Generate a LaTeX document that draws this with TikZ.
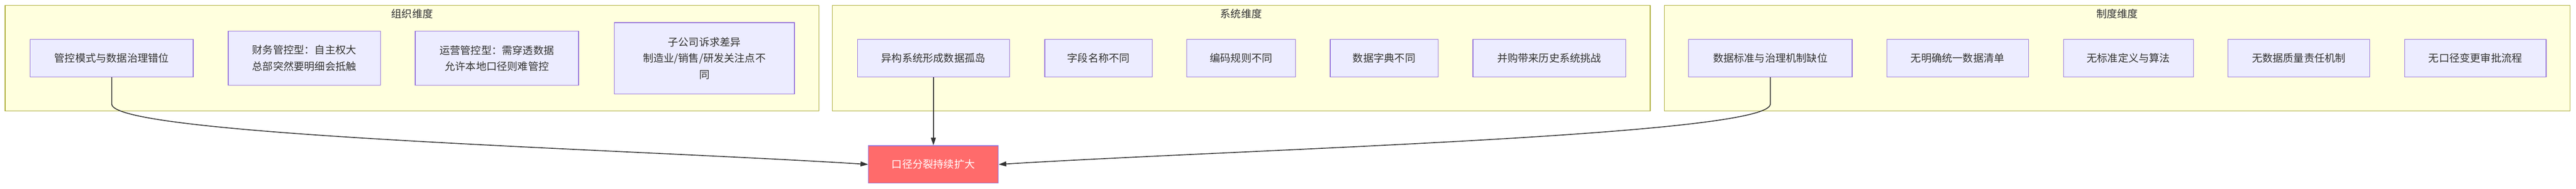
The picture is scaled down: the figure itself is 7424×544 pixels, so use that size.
\documentclass[tikz,border=0pt]{standalone}
\usepackage{fontspec}
\setmainfont{Noto Sans CJK SC}
\usetikzlibrary{arrows.meta}
\definecolor{grpfill}{HTML}{FFFFDE}
\definecolor{grpline}{HTML}{AAAA33}
\definecolor{boxfill}{HTML}{ECECFF}
\definecolor{boxline}{HTML}{9370DB}
\definecolor{hot}{HTML}{FF6B6B}
\definecolor{ink}{HTML}{333333}
\begin{document}
\begin{tikzpicture}[x=1pt,y=-1pt,
  grp/.style={draw=grpline,fill=grpfill,line width=2pt},
  grptitle/.style={text=ink,font=\fontsize{30}{36}\selectfont},
  box/.style={draw=boxline,fill=boxfill,line width=2pt,inner sep=0pt,align=center,
    text=ink,font=\fontsize{30}{47}\selectfont},
  hotbox/.style={box,fill=hot,text=white},
  link/.style={draw=ink,line width=2.5pt,-{Triangle[length=22pt,width=14pt]}}]
\useasboundingbox (0,0) rectangle (7424,544);
% groups
\draw[grp] (15,16) rectangle (2360,320);
\draw[grp] (2399,16) rectangle (4756,320);
\draw[grp] (4797,16) rectangle (7407,320);
\node[grptitle] (t1) at (1188,40) {组织维度};
\node[grptitle] (t2) at (3577,40) {系统维度};
\node[grptitle] (t3) at (6102,40) {制度维度};
% organisation
\node[box,minimum width=470pt,minimum height=108pt] (a1) at (322,168) {管控模式与数据治理错位};
\node[box,minimum width=439pt,minimum height=156pt] (a2) at (877,168) {财务管控型：自主权大\\总部突然要明细会抵触};
\node[box,minimum width=471pt,minimum height=156pt] (a3) at (1432,168) {运营管控型：需穿透数据\\允许本地口径则难管控};
\node[box,minimum width=519pt,minimum height=205pt] (a4) at (2030,168) {子公司诉求差异\\制造业/销售/研发关注点不\\同};
% system
\node[box,minimum width=438pt,minimum height=108pt] (b1) at (2690,168) {异构系统形成数据孤岛};
\node[box,minimum width=310pt,minimum height=108pt] (b2) at (3166,168) {字段名称不同};
\node[box,minimum width=313pt,minimum height=108pt] (b3) at (3577,168) {编码规则不同};
\node[box,minimum width=311pt,minimum height=108pt] (b4) at (3989,168) {数据字典不同};
\node[box,minimum width=440pt,minimum height=108pt] (b5) at (4465,168) {并购带来历史系统挑战};
% institution
\node[box,minimum width=472pt,minimum height=108pt] (c1) at (5102,168) {数据标准与治理机制缺位};
\node[box,minimum width=408pt,minimum height=108pt] (c2) at (5642,168) {无明确统一数据清单};
\node[box,minimum width=374pt,minimum height=108pt] (c3) at (6134,168) {无标准定义与算法};
\node[box,minimum width=408pt,minimum height=108pt] (c4) at (6625,168) {无数据质量责任机制};
\node[box,minimum width=408pt,minimum height=108pt] (c5) at (7134,168) {无口径变更审批流程};
% target
\node[hotbox,minimum width=374pt,minimum height=108pt] (tg) at (2690,474) {口径分裂持续扩大};
% links
\draw[link] (a1.south) -- (322,300) .. controls (322,390) and (1800,430) .. (tg.west);
\draw[link] (b1.south) -- (tg.north);
\draw[link] (c1.south) -- (5102,300) .. controls (5102,390) and (3600,430) .. (tg.east);
\end{tikzpicture}
\end{document}
